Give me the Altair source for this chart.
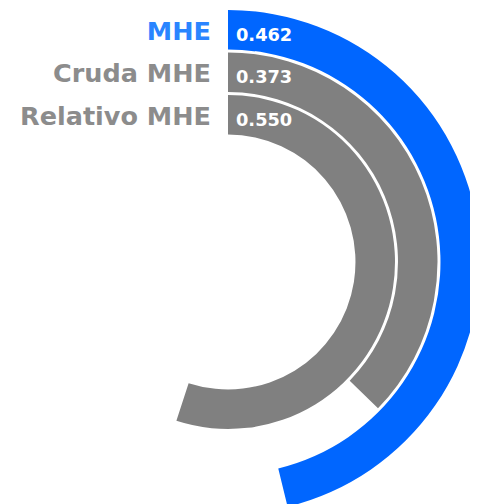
import altair as alt
import pandas as pd

categories = ["MHE", "Cruda MHE", "Relativo MHE"]
values = [0.462, 0.373, 0.550]
labels = ["0.462", "0.373", "0.550"]
ring = [3, 2, 1]
colors = ["#0066ff", "#808080", "#808080"]
text_colors = ["#2a85ff", "#8c8c8c", "#8c8c8c"]

df = pd.DataFrame({"category": categories, "value": values, "label": labels, "ring": ring})

base = alt.Chart(df).transform_calculate(
    zero="0",
    r_out="datum.ring",
    r_in="datum.ring - 0.93",
    r_mid="datum.ring - 0.465",
)

theta_scale = alt.Scale(domain=[0, 1], range=[0, 6.283185307179586])
radius_scale = alt.Scale(type="linear", domain=[0, 3], range=[124.5, 252], zero=False)
cx = alt.value(220)
cy = alt.value(254)

arcs = base.mark_arc().encode(
    theta=alt.Theta("zero:Q", scale=theta_scale),
    theta2="value:Q",
    radius=alt.Radius("r_out:Q", scale=radius_scale),
    radius2="r_in:Q",
    color=alt.Color("category:N", scale=alt.Scale(domain=categories, range=colors), legend=None),
    x=cx,
    y=cy,
)

vals = base.mark_text(
    align="left", baseline="alphabetic", dx=8, dy=11,
    font="DejaVu Sans", fontWeight="bold", fontSize=17.8, color="white",
).encode(
    theta=alt.Theta("zero:Q", scale=theta_scale, stack=False),
    radius=alt.Radius("r_mid:Q", scale=radius_scale),
    text="label:N",
    x=cx,
    y=cy,
)

cats = base.mark_text(
    align="right", baseline="alphabetic", dx=-17, dy=10,
    font="DejaVu Sans", fontWeight="bold", fontSize=25.5,
).encode(
    theta=alt.Theta("zero:Q", scale=theta_scale, stack=False),
    radius=alt.Radius("r_mid:Q", scale=radius_scale),
    text="category:N",
    color=alt.Color("category:N", scale=alt.Scale(domain=categories, range=text_colors), legend=None),
    x=cx,
    y=cy,
)

chart = alt.layer(arcs, vals, cats).resolve_scale(color="independent").properties(
    width=462, height=500,
    autosize=alt.AutoSizeParams(type="none"),
    padding=0,
).configure_view(stroke=None)

chart.save("out.html", embed_options={"renderer": "svg", "actions": False})
